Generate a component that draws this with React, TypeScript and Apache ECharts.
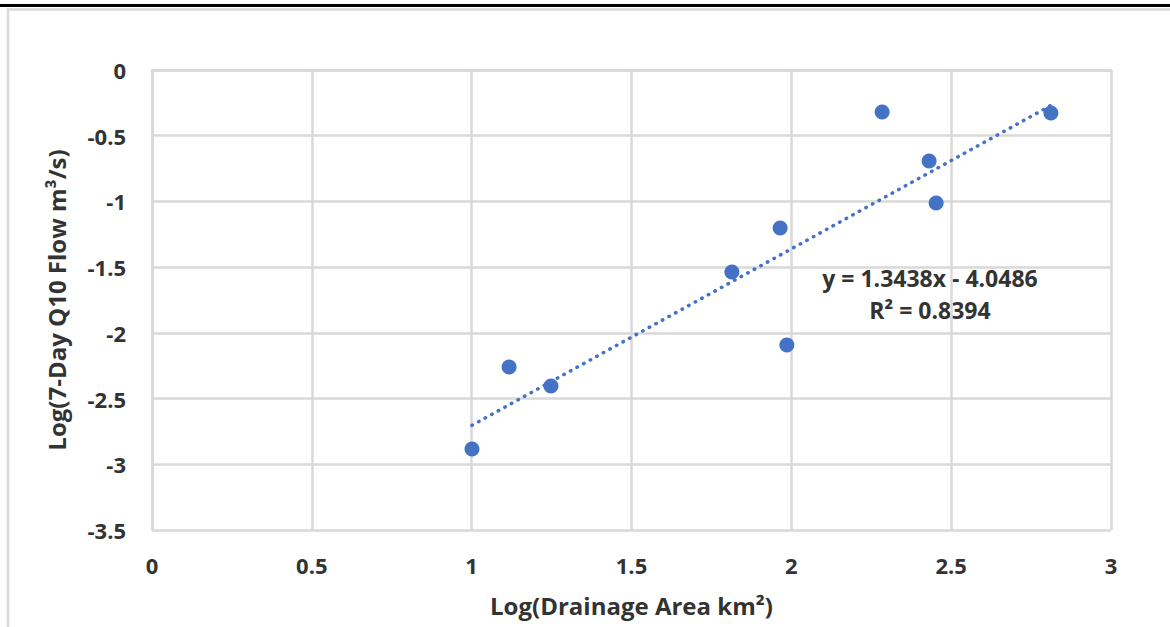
import React, { useEffect, useRef } from "react";
import * as echarts from "echarts";

const logArea = [1.001, 1.117, 1.248, 1.814, 1.965, 1.986, 2.284, 2.431, 2.453, 2.812];
const logFlow = [-2.884, -2.26, -2.405, -1.537, -1.202, -2.093, -0.32, -0.693, -1.012, -0.327];
const slope = 1.3438;
const intercept = -4.0486;
const rSquared = 0.8394;
const xTicks = [0, 0.5, 1, 1.5, 2, 2.5, 3];
const yTicks = [0, -0.5, -1, -1.5, -2, -2.5, -3, -3.5];

const FONT = "'Open Sans', 'Noto Sans', sans-serif";
const TEXT_COLOR = "#333333";
const GRID_COLOR = "#d9d9d9";
const BLUE = "#4472C4";

export default function App() {
  const ref = useRef<HTMLDivElement>(null);
  useEffect(() => {
    if (!ref.current) return;
    const chart = echarts.init(ref.current, undefined, { renderer: "svg" });
    const xMin = Math.min(...logArea);
    const xMax = Math.max(...logArea);
    const trend = [
      [xMin, slope * xMin + intercept],
      [xMax, slope * xMax + intercept],
    ];
    chart.setOption({
      animation: false,
      backgroundColor: "#fff",
      grid: { left: 152, right: 59, top: 70, bottom: 97 },
      xAxis: {
        type: "value",
        min: xTicks[0],
        max: xTicks[xTicks.length - 1],
        interval: 0.5,
        name: "Log(Drainage Area km²)",
        nameLocation: "middle",
        nameGap: 63,
        nameTextStyle: { fontFamily: FONT, fontWeight: "bold", fontSize: 24, color: TEXT_COLOR },
        axisLine: { show: true, lineStyle: { color: GRID_COLOR, width: 2.5 } },
        axisTick: { show: false },
        splitLine: { show: true, lineStyle: { color: GRID_COLOR, width: 2.5 } },
        axisLabel: { margin: 24, fontFamily: FONT, fontWeight: "bold", fontSize: 22, color: TEXT_COLOR },
      },
      yAxis: {
        type: "value",
        min: yTicks[yTicks.length - 1],
        max: yTicks[0],
        interval: 0.5,
        name: "Log(7-Day Q10 Flow m³/s)",
        nameLocation: "middle",
        nameGap: 84,
        nameTextStyle: { fontFamily: FONT, fontWeight: "bold", fontSize: 24, color: TEXT_COLOR },
        axisLine: { show: true, lineStyle: { color: GRID_COLOR, width: 2.5 } },
        axisTick: { show: false },
        splitLine: { show: true, lineStyle: { color: GRID_COLOR, width: 2.5 } },
        axisLabel: { margin: 26, fontFamily: FONT, fontWeight: "bold", fontSize: 22, color: TEXT_COLOR },
      },
      graphic: [
        { type: "rect", shape: { x: 0, y: 4, width: 1170, height: 3 }, style: { fill: "#000" }, silent: true },
        {
          type: "polyline",
          shape: { points: [[8, 640], [8, 9.5], [1175, 9.5]] },
          style: { stroke: GRID_COLOR, lineWidth: 2.5, fill: "none" },
          silent: true,
        },
        {
          type: "text",
          x: 930,
          y: 278,
          style: {
            text: `y = ${slope.toFixed(4)}x - ${Math.abs(intercept).toFixed(4)}`,
            fontFamily: FONT,
            fontWeight: "bold",
            fontSize: 23,
            fill: TEXT_COLOR,
            align: "center",
            verticalAlign: "middle",
          },
        },
        {
          type: "text",
          x: 930,
          y: 310,
          style: {
            text: `R² = ${rSquared.toFixed(4)}`,
            fontFamily: FONT,
            fontWeight: "bold",
            fontSize: 23,
            fill: TEXT_COLOR,
            align: "center",
            verticalAlign: "middle",
          },
        },
      ],
      series: [
        {
          type: "line",
          data: trend,
          showSymbol: false,
          symbol: "none",
          z: 3,
          lineStyle: { color: BLUE, width: 3.5, type: [0.5, 7], cap: "round" },
        },
        {
          type: "scatter",
          data: logArea.map((x, i) => [x, logFlow[i]]),
          symbolSize: 15,
          z: 4,
          itemStyle: { color: BLUE, opacity: 1 },
        },
      ],
    });
    return () => chart.dispose();
  }, []);
  return (
    <div
      ref={ref}
      style={{ position: "absolute", left: 0, top: 0, width: 1170, height: 627 }}
    />
  );
}
